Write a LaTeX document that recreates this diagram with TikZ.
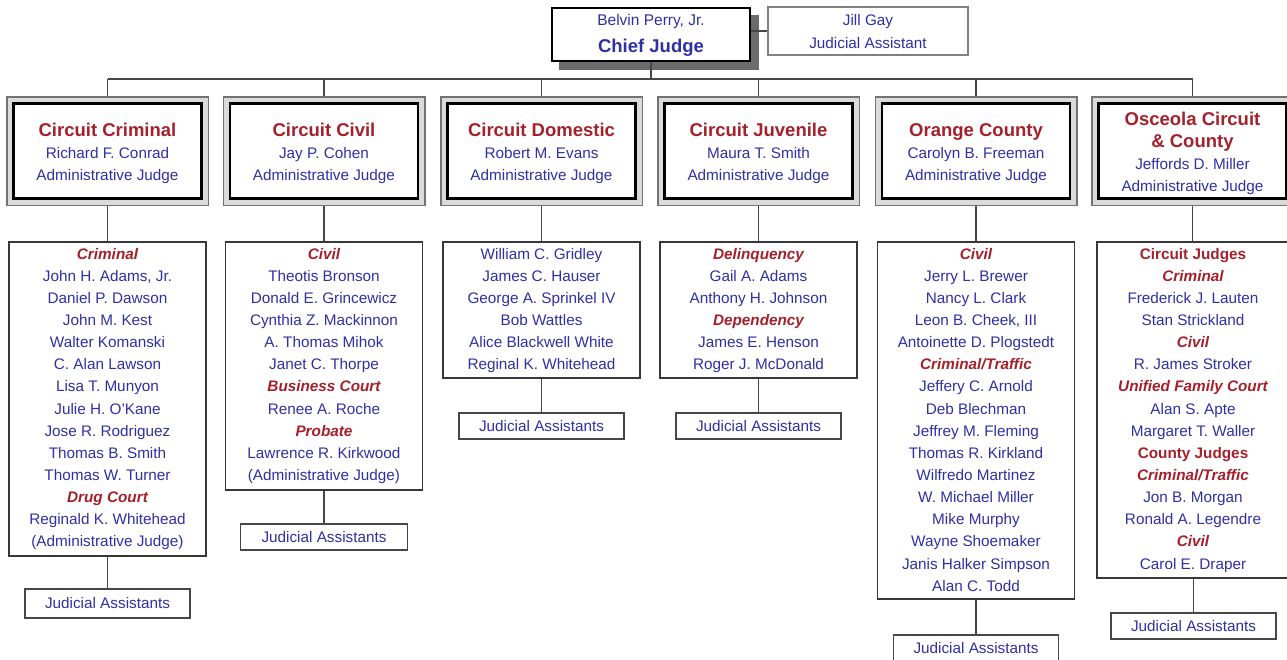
\documentclass[tikz,border=0pt]{standalone}
\usepackage{fontspec}
\setmainfont{Liberation Sans}
\usetikzlibrary{backgrounds}
\definecolor{tred}{RGB}{165,32,42}
\definecolor{tblue}{RGB}{48,48,165}
\newcommand{\hdi}[1]{{\color{tred}\bfseries\itshape #1}}
\newcommand{\hdb}[1]{{\color{tred}\bfseries #1}}
\newcommand{\lst}[1]{\parbox[t]{210pt}{\centering\fontsize{15.3}{22.15}\selectfont\leavevmode #1}}
\newcommand{\dtx}[1]{\parbox[t]{200pt}{\centering\fontsize{15.3}{22}\selectfont\leavevmode #1}}
\newcommand{\dttl}[1]{{\color{tred}\fontsize{18.5}{22}\selectfont\bfseries #1}}
\begin{document}
\begin{tikzpicture}[x=1pt,y=-1pt,
  dept/.style={draw=black,line width=2.5pt,fill=white,minimum width=188pt,minimum height=95pt,inner sep=0pt},
  deptframe/.style={draw=black!55,line width=1.5pt,fill=black!14},
  listbox/.style={draw=black!78,line width=1.6pt,fill=white,minimum width=197pt,inner sep=0pt,anchor=north},
  jabox/.style={draw=black!72,line width=1.8pt,fill=white,minimum width=165pt,minimum height=26pt,inner sep=0pt,
    font=\fontsize{15.3}{18}\selectfont,text=tblue},
  txt/.style={anchor=base,inner sep=0pt,text=tblue},
  conn/.style={draw=black!72,line width=1.7pt}]
\useasboundingbox (0,0) rectangle (1287,659);

% top
\node[draw=black,line width=2.5pt,fill=white,minimum width=198pt,minimum height=53pt,inner sep=0pt] (chief) at (651,34.5) {};
\node[txt] (chieft) at (651,25) {\parbox[t]{190pt}{\centering\fontsize{15.5}{27}\selectfont\leavevmode Belvin Perry, Jr.\\{\fontsize{18.5}{27}\selectfont\bfseries Chief Judge}}};
\node[draw=black!50,line width=1.8pt,fill=white,minimum width=200pt,minimum height=48pt,inner sep=0pt] (jill) at (868,31) {};
\node[txt] (jillt) at (868,25.5) {\parbox[t]{190pt}{\centering\fontsize{15.3}{23}\selectfont\leavevmode Jill Gay\\Judicial Assistant}};

\coordinate (bus) at (651,79);

% department boxes
\node[dept] (D1) at (107.5,151) {};
\node[dept] (D2) at (324,151) {};
\node[dept] (D3) at (541.5,151) {};
\node[dept] (D4) at (758.5,151) {};
\node[dept] (D5) at (976,151) {};
\node[dept] (D6) at (1192.5,151) {};

\node[txt] (D1t) at (107.5,136) {\dtx{\dttl{Circuit Criminal}\\Richard F. Conrad\\Administrative Judge}};
\node[txt] (D2t) at (324,136) {\dtx{\dttl{Circuit Civil}\\Jay P. Cohen\\Administrative Judge}};
\node[txt] (D3t) at (541.5,136) {\dtx{\dttl{Circuit Domestic}\\Robert M. Evans\\Administrative Judge}};
\node[txt] (D4t) at (758.5,136) {\dtx{\dttl{Circuit Juvenile}\\Maura T. Smith\\Administrative Judge}};
\node[txt] (D5t) at (976,136) {\dtx{\dttl{Orange County}\\Carolyn B. Freeman\\Administrative Judge}};
\node[txt] (D6t) at (1192.5,125) {\dtx{\dttl{Osceola Circuit}\\\dttl{\& County}\\Jeffords D. Miller\\Administrative Judge}};

% list boxes
\node[listbox,minimum height=314pt] (L1) at (107.5,241) {};
\node[listbox,minimum height=248pt] (L2) at (324,241) {};
\node[listbox,minimum height=136pt] (L3) at (541.5,241) {};
\node[listbox,minimum height=136pt] (L4) at (758.5,241) {};
\node[listbox,minimum height=357pt] (L5) at (976,241) {};
\node[listbox,minimum height=336pt,minimum width=194pt] (L6) at (1194,241) {};

\node[txt] (L1t) at (107.5,259) {\lst{\hdi{Criminal}\\John H. Adams, Jr.\\Daniel P. Dawson\\John M. Kest\\Walter Komanski\\C. Alan Lawson\\Lisa T. Munyon\\Julie H. O'Kane\\Jose R. Rodriguez\\Thomas B. Smith\\Thomas W. Turner\\\hdi{Drug Court}\\Reginald K. Whitehead\\(Administrative Judge)}};
\node[txt] (L2t) at (324,259) {\lst{\hdi{Civil}\\Theotis Bronson\\Donald E. Grincewicz\\Cynthia Z. Mackinnon\\A. Thomas Mihok\\Janet C. Thorpe\\\hdi{Business Court}\\Renee A. Roche\\\hdi{Probate}\\Lawrence R. Kirkwood\\(Administrative Judge)}};
\node[txt] (L3t) at (541.5,259) {\lst{William C. Gridley\\James C. Hauser\\George A. Sprinkel IV\\Bob Wattles\\Alice Blackwell White\\Reginal K. Whitehead}};
\node[txt] (L4t) at (758.5,259) {\lst{\hdi{Delinquency}\\Gail A. Adams\\Anthony H. Johnson\\\hdi{Dependency}\\James E. Henson\\Roger J. McDonald}};
\node[txt] (L5t) at (976,259) {\lst{\hdi{Civil}\\Jerry L. Brewer\\Nancy L. Clark\\Leon B. Cheek, III\\Antoinette D. Plogstedt\\\hdi{Criminal/Traffic}\\Jeffery C. Arnold\\Deb Blechman\\Jeffrey M. Fleming\\Thomas R. Kirkland\\Wilfredo Martinez\\W. Michael Miller\\Mike Murphy\\Wayne Shoemaker\\Janis Halker Simpson\\Alan C. Todd}};
\node[txt] (L6t) at (1193,259) {\lst{\hdb{Circuit Judges}\\\hdi{Criminal}\\Frederick J. Lauten\\Stan Strickland\\\hdi{Civil}\\R. James Stroker\\\hdi{Unified Family Court}\\Alan S. Apte\\Margaret T. Waller\\\hdb{County Judges}\\\hdi{Criminal/Traffic}\\Jon B. Morgan\\Ronald A. Legendre\\\hdi{Civil}\\Carol E. Draper}};

% judicial assistants
\node[jabox,minimum height=29pt] (J1) at (107.5,603.5) {Judicial Assistants};
\node[jabox,minimum width=167pt] (J2) at (324,537) {Judicial Assistants};
\node[jabox] (J3) at (541.5,426) {Judicial Assistants};
\node[jabox] (J4) at (758.5,426) {Judicial Assistants};
\node[jabox] (J5) at (976,648) {Judicial Assistants};
\node[jabox] (J6) at (1193.5,626) {Judicial Assistants};

\begin{scope}[on background layer]
  \fill[white] (0,0) rectangle (1287,659);
  \fill[black!58] ([xshift=8pt,yshift=-8pt]chief.south west) rectangle ([xshift=8pt,yshift=-8pt]chief.north east);
  \draw[conn] (jill.west -| chief.east) -- (jill.west);
  \draw[conn] (chief.south) -- (bus);
  \draw[conn] (D1.north |- bus) -- (D6.north |- bus);
  \foreach \i in {1,...,6} {
    \draw[conn] (D\i.north) -- (D\i.north |- bus);
    \draw[conn] (D\i.south) -- (D\i.south |- L\i.north);
    \draw[conn] (L\i.south -| J\i.north) -- (J\i.north);
    \draw[deptframe] ([xshift=-5.5pt,yshift=5.5pt]D\i.north west) rectangle ([xshift=5.5pt,yshift=-5.5pt]D\i.south east);
  }
\end{scope}
\end{tikzpicture}
\end{document}
